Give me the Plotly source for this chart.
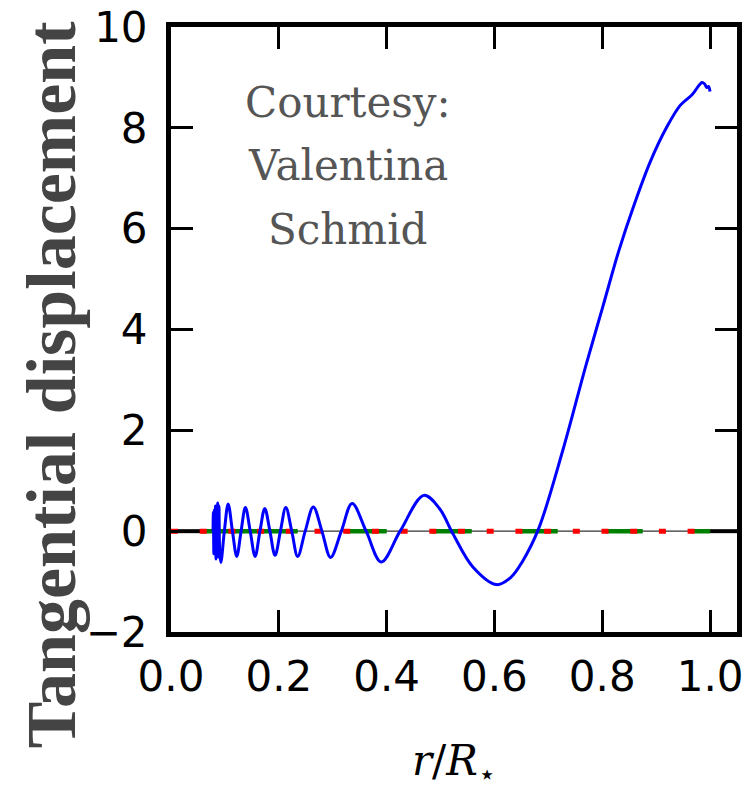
import plotly.graph_objects as go

# ---- data ----
r_blue = [0.078, 0.0786, 0.0795, 0.0805, 0.0815, 0.0825, 0.0835, 0.0845, 0.0855, 0.0866,
          0.0878, 0.0890, 0.0905, 0.0925, 0.099, 0.106, 0.114, 0.122, 0.130, 0.138,
          0.147, 0.156, 0.165, 0.174, 0.1835, 0.193, 0.203, 0.213, 0.224, 0.235,
          0.249, 0.264, 0.280, 0.296, 0.316, 0.336, 0.362, 0.390, 0.425, 0.469,
          0.498, 0.523, 0.560, 0.604, 0.630, 0.652, 0.682, 0.727, 0.770, 0.801, 0.831,
          0.860, 0.890, 0.920, 0.945, 0.967, 0.985, 0.990, 0.994, 0.997, 1.000]
disp_blue = [0.0, 0.38, -0.45, 0.42, -0.40, 0.50, -0.55, 0.45, -0.50, 0.56,
             -0.51, 0.50, -0.45, -0.62, 0.0, 0.54, 0.0, -0.50, 0.0, 0.47,
             0.0, -0.50, 0.0, 0.45, 0.0, -0.48, 0.0, 0.47, 0.0, -0.50,
             0.0, 0.48, 0.0, -0.52, 0.0, 0.55, 0.0, -0.61, 0.0, 0.71,
             0.45, -0.05, -0.71, -1.06, -0.92, -0.60, 0.05, 1.61, 3.30, 4.45, 5.57,
             6.50, 7.35, 8.02, 8.45, 8.66, 8.90, 8.87, 8.80, 8.82, 8.72]

r_green = [0.057, 1.0]
disp_green = [0.0, 0.0]

r_red = [0.0, 1.0]
disp_red = [0.0, 0.0]

r_full = [0.0, 1.05]          # x-axis limits
r_model = [0.057, 1.0]        # extent of the model grid

x_ticks = [0.0, 0.2, 0.4, 0.6, 0.8, 1.0]
y_ticks = [-2, 0, 2, 4, 6, 8, 10]
y_range = [-2, 10]

fig = go.Figure()

# zero reference line: thick outside model grid, thin inside
fig.add_trace(go.Scatter(x=[r_full[0], r_model[0], None, r_model[1], r_full[1]],
                         y=[0, 0, None, 0, 0], mode="lines",
                         line=dict(color="black", width=4), showlegend=False, hoverinfo="skip"))
fig.add_trace(go.Scatter(x=r_model, y=[0, 0], mode="lines",
                         line=dict(color="#333333", width=1.2), showlegend=False, hoverinfo="skip"))
# green dashed
fig.add_trace(go.Scatter(x=r_green, y=disp_green, mode="lines",
                         line=dict(color="#008000", width=4.5,
                                   dash="96px,48px,41px,45px,40px,48px,38px,48px,37px,48px,22px,100px"),
                         showlegend=False, hoverinfo="skip"))
# red dotted
fig.add_trace(go.Scatter(x=r_red, y=disp_red, mode="lines",
                         line=dict(color="#ff0000", width=5, dash="7px,21.7px"),
                         showlegend=False, hoverinfo="skip"))
# blue
fig.add_trace(go.Scatter(x=r_blue, y=disp_blue, mode="lines",
                         line=dict(color="#0000ff", width=3, shape="spline", smoothing=1.0),
                         showlegend=False, hoverinfo="skip"))

axis_common = dict(showgrid=False, zeroline=False, showline=True, linecolor="black",
                   linewidth=5, mirror="ticks", ticks="inside", ticklen=22, tickwidth=2.5,
                   tickcolor="black", automargin=False,
                   tickfont=dict(family="DejaVu Sans", size=42, color="black"))

fig.update_xaxes(range=r_full, tickvals=x_ticks, ticktext=[f"{v:.1f}" for v in x_ticks],
                 ticklabelstandoff=4, **axis_common)
fig.update_yaxes(range=y_range, tickvals=y_ticks,
                 ticktext=[str(v).replace("-", "\u2212") for v in y_ticks],
                 ticklabelstandoff=10, **axis_common)

annots = [
    dict(text="Courtesy:", x=0.3127, y=0.876),
    dict(text="Valentina", x=0.3127, y=0.771),
    dict(text="Schmid", x=0.3127, y=0.666),
]
for a in annots:
    fig.add_annotation(xref="paper", yref="paper", showarrow=False, xanchor="center",
                       yanchor="middle", font=dict(family="DejaVu Serif", size=42, color="#555555"),
                       **a)

fig.add_annotation(xref="paper", yref="paper", x=-0.212, y=0.408, textangle=-90,
                   text="<b>Tangential displacement</b>", showarrow=False,
                   xanchor="center", yanchor="middle",
                   font=dict(family="Liberation Serif", size=70, color="#444444"))
fig.add_annotation(xref="paper", yref="paper", x=0.5, y=-0.218,
                   text="<i>r</i>/<i>R</i><sub>\u22c6</sub>", showarrow=False,
                   xanchor="center", yanchor="middle",
                   font=dict(family="DejaVu Serif", size=42, color="black"))

fig.update_layout(width=744, height=788, margin=dict(l=171, r=7, t=27, b=156, autoexpand=False),
                  plot_bgcolor="white", paper_bgcolor="white", showlegend=False)

fig.write_html("out.html", config={"displayModeBar": False},
               post_script="document.body.style.margin='0';document.body.style.overflow='hidden';")
